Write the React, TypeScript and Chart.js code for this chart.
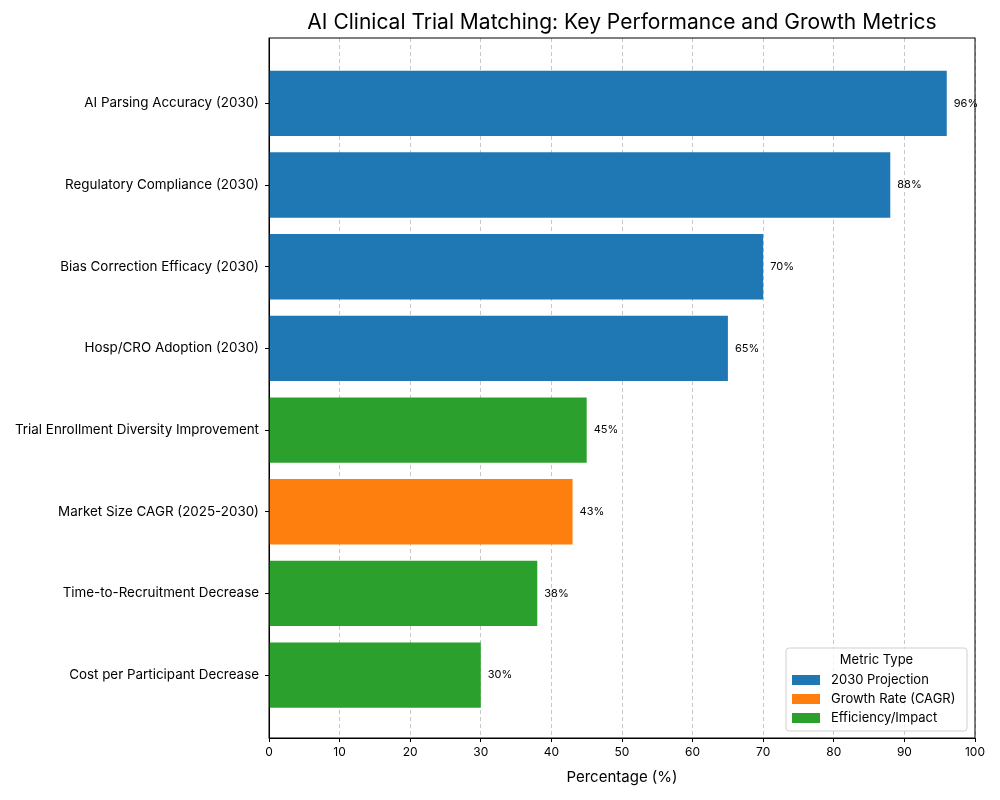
import React, { useEffect, useRef } from "react";
import { Chart, registerables } from "chart.js";

Chart.register(...registerables);

const categories = [
  "AI Parsing Accuracy (2030)",
  "Regulatory Compliance (2030)",
  "Bias Correction Efficacy (2030)",
  "Hosp/CRO Adoption (2030)",
  "Trial Enrollment Diversity Improvement",
  "Market Size CAGR (2025-2030)",
  "Time-to-Recruitment Decrease",
  "Cost per Participant Decrease",
];
const values = [96, 88, 70, 65, 45, 43, 38, 30];
const metricTypes = [
  "2030 Projection",
  "2030 Projection",
  "2030 Projection",
  "2030 Projection",
  "Efficiency/Impact",
  "Growth Rate (CAGR)",
  "Efficiency/Impact",
  "Efficiency/Impact",
];
const legendTypes = ["2030 Projection", "Growth Rate (CAGR)", "Efficiency/Impact"];
const typeColors: Record<string, string> = {
  "2030 Projection": "#1f77b4",
  "Growth Rate (CAGR)": "#ff7f0e",
  "Efficiency/Impact": "#2ca02c",
};
const xTicks = [0, 10, 20, 30, 40, 50, 60, 70, 80, 90, 100];
const titleText = "AI Clinical Trial Matching: Key Performance and Growth Metrics";
const xTitle = "Percentage (%)";
const legendTitle = "Metric Type";

const FONT = "Inter, 'Noto Sans', sans-serif";

export default function App() {
  const ref = useRef<HTMLCanvasElement>(null);
  useEffect(() => {
    if (!ref.current) return;
    const extras = {
      id: "extras",
      afterDraw(chart: any) {
        const { ctx, chartArea } = chart;
        const xs = chart.scales.x;
        const ys = chart.scales.y;
        ctx.save();
        ctx.strokeStyle = "#000";
        ctx.lineWidth = 1;
        ctx.strokeRect(chartArea.left, chartArea.top, chartArea.right - chartArea.left, chartArea.bottom - chartArea.top);
        ctx.fillStyle = "#000";
        ctx.font = `21px ${FONT}`;
        ctx.textAlign = "center";
        ctx.textBaseline = "middle";
        ctx.fillText(titleText, (chartArea.left + chartArea.right) / 2, 23);
        ctx.font = `11px ${FONT}`;
        ctx.textAlign = "left";
        values.forEach((v, i) => {
          ctx.fillText(`${v}%`, xs.getPixelForValue(v) + 7, ys.getPixelForValue(i));
        });
        const bx = 786, by = 648, bw = 181, bh = 83;
        ctx.beginPath();
        const r = 3;
        ctx.moveTo(bx + r, by);
        ctx.arcTo(bx + bw, by, bx + bw, by + bh, r);
        ctx.arcTo(bx + bw, by + bh, bx, by + bh, r);
        ctx.arcTo(bx, by + bh, bx, by, r);
        ctx.arcTo(bx, by, bx + bw, by, r);
        ctx.closePath();
        ctx.fillStyle = "rgba(255,255,255,0.8)";
        ctx.fill();
        ctx.strokeStyle = "#d0d0d0";
        ctx.stroke();
        ctx.fillStyle = "#000";
        ctx.font = `13px ${FONT}`;
        ctx.textAlign = "center";
        ctx.fillText(legendTitle, bx + bw / 2, by + 12);
        ctx.textAlign = "left";
        legendTypes.forEach((t, i) => {
          const y = by + 32 + i * 19;
          ctx.fillStyle = typeColors[t];
          ctx.fillRect(bx + 6, y - 5, 28, 10);
          ctx.fillStyle = "#000";
          ctx.fillText(t, bx + 45, y);
        });
        ctx.restore();
      },
    };
    const chart = new Chart(ref.current, {
      type: "bar",
      data: {
        datasets: [
          {
            data: values.map((v, i) => ({ x: v, y: i })) as any,
            backgroundColor: metricTypes.map((t) => typeColors[t]),
            barPercentage: 0.8,
            categoryPercentage: 1,
          },
        ],
      },
      options: {
        indexAxis: "y",
        animation: false,
        responsive: false,
        devicePixelRatio: 1,
        layout: { padding: { left: 0, right: 25, top: 38, bottom: 14 } },
        plugins: { legend: { display: false }, tooltip: { enabled: false }, title: { display: false } },
        scales: {
          x: {
            type: "linear",
            min: 0,
            max: 100,
            afterBuildTicks: (axis: any) => {
              axis.ticks = xTicks.map((v) => ({ value: v }));
            },
            afterFit: (s: any) => {
              s.height = 48;
            },
            grid: {
              color: "#c8c8c8",
              lineWidth: 1,
              drawTicks: true,
              tickLength: 4,
              tickColor: "#000",
              tickBorderDash: [],
            },
            border: { display: true, color: "#000", width: 1, dash: [4, 3] },
            ticks: { color: "#000", font: { family: FONT, size: 12 }, padding: 3, maxRotation: 0 },
            title: { display: true, text: xTitle, color: "#000", font: { family: FONT, size: 15 }, padding: { top: 2, bottom: 0 } },
          },
          y: {
            type: "linear",
            reverse: true,
            offset: false,
            min: -0.8,
            max: 7.77,
            afterBuildTicks: (axis: any) => {
              axis.ticks = categories.map((_, i) => ({ value: i }));
            },
            afterFit: (s: any) => {
              s.width = 269;
            },
            grid: { offset: false, drawOnChartArea: false, drawTicks: true, tickLength: 4, tickColor: "#000", color: "#000" },
            border: { display: true, color: "#000" },
            ticks: {
              color: "#000",
              font: { family: FONT, size: 13.4 },
              padding: 6,
              callback: (v: any) => categories[Math.round(Number(v))] ?? "",
            },
          },
        },
      },
      plugins: [extras],
    });
    return () => chart.destroy();
  }, []);
  return (
    <div style={{ position: "absolute", left: 0, top: 0, width: 1000, height: 800, background: "#fff" }}>
      <canvas ref={ref} width={1000} height={800} />
    </div>
  );
}
